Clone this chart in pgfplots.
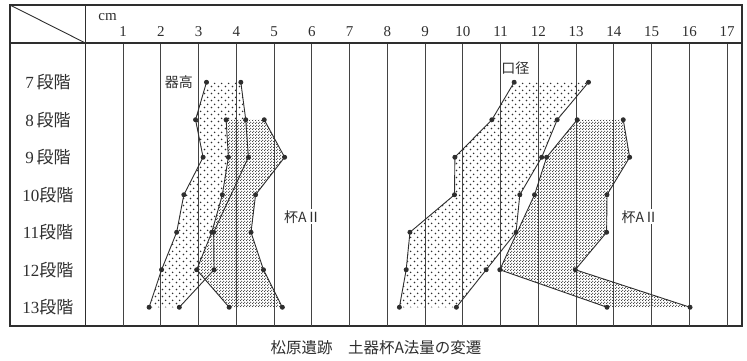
\documentclass[border=0pt]{standalone}
\usepackage{pgfplots}
\pgfplotsset{compat=1.18}
\usepackage{fontspec}
\setmainfont{Liberation Serif}
\newfontfamily\jp{Noto Sans CJK JP}
\usetikzlibrary{patterns}
\definecolor{ink}{HTML}{2E2E2E}
\pgfdeclarepatternformonly{sparsedots}{\pgfqpoint{0pt}{0pt}}{\pgfqpoint{7pt}{7pt}}{\pgfqpoint{7pt}{7pt}}{%
  \pgfpathcircle{\pgfqpoint{1.75pt}{1.75pt}}{0.95pt}%
  \pgfpathcircle{\pgfqpoint{5.25pt}{5.25pt}}{0.95pt}%
  \pgfusepath{fill}}
\pgfdeclarepatternformonly{densedots}{\pgfqpoint{0pt}{0pt}}{\pgfqpoint{3pt}{3pt}}{\pgfqpoint{3pt}{3pt}}{%
  \pgfpathcircle{\pgfqpoint{0.75pt}{0.75pt}}{0.78pt}%
  \pgfpathcircle{\pgfqpoint{2.25pt}{2.25pt}}{0.78pt}%
  \pgfusepath{fill}}
\begin{document}
\begin{tikzpicture}
\begin{axis}[name=ax, scale only axis,
  width=732pt, height=321pt,
  xmin=-1.995, xmax=17.396, ymin=4.94, ymax=13.5, y dir=reverse,
  xtick=\empty, ytick=\empty, clip=false,
  axis line style={ink, line width=1.3pt}]
% ---- fills: general (sparse dots)
\addplot[draw=none, pattern=sparsedots, pattern color=ink] coordinates {
 (3.21,7)(2.92,8)(3.12,9)(2.61,10)(2.42,11)(2.02,12)(1.69,13)
 (2.49,13)(3.41,12)(3.40,11)(4.32,9)(4.25,8)(4.12,7)};
\addplot[draw=none, pattern=sparsedots, pattern color=ink] coordinates {
 (11.36,7)(10.77,8)(9.79,9)(9.78,10)(8.60,11)(8.50,12)(8.32,13)
 (9.83,13)(10.62,12)(11.41,11)(11.51,10)(12.09,9)(12.50,8)(13.33,7)};
% ---- fills: 杯AII (dense dots)
\addplot[draw=none, fill=white] coordinates {
 (3.73,8)(3.79,9)(3.63,10)(3.35,11)(2.95,12)(3.81,13)
 (5.22,13)(4.72,12)(4.39,11)(4.51,10)(5.28,9)(4.74,8)};
\addplot[draw=none, pattern=densedots, pattern color=black!80] coordinates {
 (3.73,8)(3.79,9)(3.63,10)(3.35,11)(2.95,12)(3.81,13)
 (5.22,13)(4.72,12)(4.39,11)(4.51,10)(5.28,9)(4.74,8)};
\addplot[draw=none, pattern=densedots, pattern color=black!80] coordinates {
 (13.03,8)(12.22,9)(11.90,10)(10.98,12)(13.82,13)
 (16.02,13)(12.98,12)(13.81,11)(13.82,10)(14.42,9)(14.25,8)};
% ---- table rules
\pgfplotsinvokeforeach{1,...,17}{
  \draw[ink!90, line width=0.8pt] (axis cs:#1,5.952) -- (axis cs:#1,13.5);
  \node[font=\fontsize{15}{15}\selectfont, ink] at (axis cs:#1,5.66) {#1};
}
\draw[ink, line width=1.1pt] (axis cs:-1.995,5.952) -- (axis cs:17.396,5.952);
\draw[ink, line width=1.1pt] (axis cs:0,4.94) -- (axis cs:0,13.5);
\draw[ink, line width=0.9pt] (axis cs:-1.995,4.94) -- (axis cs:0,5.952);
\node[font=\fontsize{15}{15}\selectfont, ink] at (axis cs:0.59,5.26) {cm};
% ---- row labels
\node[font=\fontsize{17}{17}\selectfont, ink] at (axis cs:-0.99,7) {7\,{\jp 段階}};
\node[font=\fontsize{17}{17}\selectfont, ink] at (axis cs:-0.99,8) {8\,{\jp 段階}};
\node[font=\fontsize{17}{17}\selectfont, ink] at (axis cs:-0.99,9) {9\,{\jp 段階}};
\node[font=\fontsize{17}{17}\selectfont, ink] at (axis cs:-0.99,10) {10{\jp 段階}};
\node[font=\fontsize{17}{17}\selectfont, ink] at (axis cs:-0.99,11) {11{\jp 段階}};
\node[font=\fontsize{17}{17}\selectfont, ink] at (axis cs:-0.99,12) {12{\jp 段階}};
\node[font=\fontsize{17}{17}\selectfont, ink] at (axis cs:-0.99,13) {13{\jp 段階}};
% ---- boundary lines
\pgfplotsset{bline/.style={ink, line width=0.9pt, mark=*, mark size=2pt, mark options={fill=ink, draw=ink}}}
\addplot[bline] coordinates {(3.21,7)(2.92,8)(3.12,9)(2.61,10)(2.42,11)(2.02,12)(1.69,13)};
\addplot[bline] coordinates {(4.12,7)(4.25,8)(4.32,9)(3.40,11)(3.41,12)(2.49,13)};
\addplot[bline] coordinates {(3.73,8)(3.79,9)(3.63,10)(3.35,11)(2.95,12)(3.81,13)};
\addplot[bline] coordinates {(4.74,8)(5.28,9)(4.51,10)(4.39,11)(4.72,12)(5.22,13)};
\addplot[bline] coordinates {(11.36,7)(10.77,8)(9.79,9)(9.78,10)(8.60,11)(8.50,12)(8.32,13)};
\addplot[bline] coordinates {(13.33,7)(12.50,8)(12.09,9)(11.51,10)(11.41,11)(10.62,12)(9.83,13)};
\addplot[bline] coordinates {(13.03,8)(12.22,9)(11.90,10)(10.98,12)(13.82,13)};
\addplot[bline] coordinates {(14.25,8)(14.42,9)(13.82,10)(13.81,11)(12.98,12)(16.02,13)};
% ---- labels
\node[font=\jp\fontsize{14}{14}\selectfont, ink] at (axis cs:2.48,7) {器高};
\node[font=\jp\fontsize{14}{14}\selectfont, ink] at (axis cs:11.39,6.62) {口径};
\node[font=\jp\fontsize{14}{14}\selectfont, ink, fill=white, inner sep=1pt] at (axis cs:5.75,10.59) {杯AⅡ};
\node[font=\jp\fontsize{14}{14}\selectfont, ink, fill=white, inner sep=1pt] at (axis cs:14.69,10.59) {杯AⅡ};
\end{axis}
\node[font=\jp\fontsize{15.5}{15.5}\selectfont, ink] at ([shift={(366pt,-22pt)}]ax.south west) {松原遺跡\quad 土器杯A法量の変遷};
\pgfresetboundingbox
\path[use as bounding box] ([shift={(-10pt,-34pt)}]ax.south west) rectangle ([shift={(737pt,326pt)}]ax.south west);
\end{tikzpicture}
\end{document}
